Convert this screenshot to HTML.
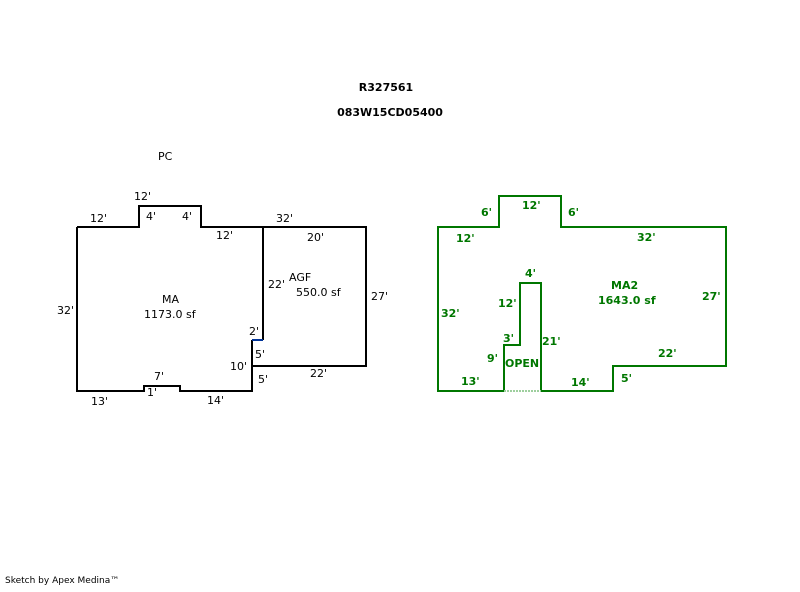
<!DOCTYPE html>
<html><head><style>
body{margin:0;background:#fff}
svg text{font-family:"DejaVu Sans","Liberation Sans",sans-serif;font-size:11px}
</style></head><body>
<svg width="800" height="587" viewBox="0 0 800 587" xmlns="http://www.w3.org/2000/svg">
<rect width="800" height="587" fill="#fff"/>
<g font-weight="bold" text-anchor="middle" fill="#000">
<text x="386" y="91">R327561</text>
<text x="390" y="116">083W15CD05400</text>
</g>
<text x="158" y="160" fill="#000">PC</text>
<g fill="none" stroke="#000" stroke-width="2">
<path d="M77,227 H139 V206 H201 V227 H263 M263,227 H366 V366 H252 M263,227 V340 M252,340 V391 H180 V386 H144 V391 H77 V227"/>
</g>
<path d="M252,340 H263" stroke="#003399" stroke-width="2"/>
<g fill="#000">
<text x="90" y="222">12'</text><text x="134" y="200">12'</text>
<text x="146" y="220">4'</text><text x="182" y="220">4'</text>
<text x="216" y="239">12'</text><text x="276" y="222">32'</text>
<text x="307" y="241">20'</text><text x="268" y="288">22'</text>
<text x="289" y="281">AGF</text><text x="296" y="296">550.0 sf</text>
<text x="371" y="300">27'</text><text x="57" y="314">32'</text>
<text x="162" y="303">MA</text><text x="144" y="318">1173.0 sf</text>
<text x="249" y="335">2'</text><text x="255" y="358">5'</text>
<text x="230" y="370">10'</text><text x="258" y="383">5'</text>
<text x="310" y="377">22'</text><text x="154" y="380">7'</text>
<text x="147" y="396">1'</text><text x="91" y="405">13'</text>
<text x="207" y="404">14'</text>
</g>
<g fill="none" stroke="#007700" stroke-width="2">
<path d="M438,227 H499 V196 H561 V227 H726 V366 H613 V391 H541 V283 H520 V345 H504 V391 H438 Z"/>
</g>
<path d="M504,391 H541" stroke="#fff" stroke-width="2"/>
<path d="M504,391 H541" stroke="#7fbf7f" stroke-width="1.5" stroke-dasharray="2,1"/>
<g fill="#007700" font-weight="bold">
<text x="481" y="216">6'</text><text x="522" y="209">12'</text>
<text x="568" y="216">6'</text><text x="456" y="242">12'</text>
<text x="637" y="241">32'</text><text x="525" y="277">4'</text>
<text x="611" y="289">MA2</text><text x="598" y="304">1643.0 sf</text>
<text x="702" y="300">27'</text><text x="498" y="307">12'</text>
<text x="441" y="317">32'</text><text x="503" y="342">3'</text>
<text x="542" y="345">21'</text><text x="487" y="362">9'</text>
<text x="505" y="367">OPEN</text><text x="658" y="357">22'</text>
<text x="461" y="385">13'</text><text x="571" y="386">14'</text>
<text x="621" y="382">5'</text>
</g>
<text x="5" y="583" fill="#000" style="font-size:9px">Sketch by Apex Medina™</text>
</svg>
</body></html>
